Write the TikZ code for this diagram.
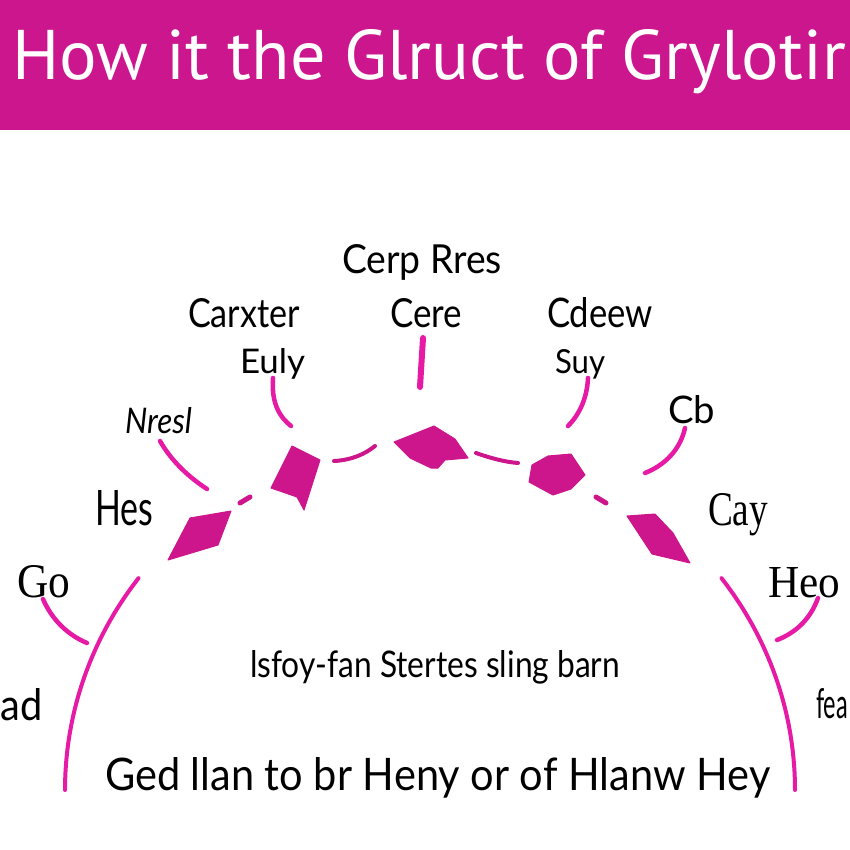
\documentclass[tikz,border=0pt]{standalone}
\usepackage{fontspec}
\setmainfont{Lato}
\newfontfamily\titlefont{PT Sans}
\newfontfamily\serifB{Liberation Serif}
\usepackage{graphicx}
\definecolor{hdr}{RGB}{204,22,142}
\definecolor{arcc}{RGB}{230,26,164}
\definecolor{blob}{RGB}{205,22,140}
\newcommand{\fitbox}[3]{\resizebox{#1pt}{#2pt}{#3}}
\begin{document}
\begin{tikzpicture}[x=1pt,y=-1pt,
  lbl/.style={anchor=base west, inner sep=0pt, outer sep=0pt, text=black},
  callout/.style={draw=arcc, line width=4.5pt, line cap=round},
  archline/.style={draw=arcc, line width=4pt, line cap=round},
  petal/.style={fill=blob, draw=blob, line width=1pt, line join=round},
  dashseg/.style={draw=blob, line width=4pt, line cap=round}]
\useasboundingbox (0,0) rectangle (850,850);
\fill[white] (0,0) rectangle (850,850);
\begin{scope}
\clip (0,0) rectangle (850,850);
% header band
\fill[hdr] (0,0) rectangle (850,130);
\node[lbl, text=white] (title) at (12,80) {\fitbox{834}{50}{\titlefont How it the Glruct of Grylotir}};
% labels
\node[lbl] (cerp) at (342,273) {\fitbox{160}{29}{Cerp Rres}};
\node[lbl] (carxter) at (188,327) {\fitbox{112}{29}{Carxter}};
\node[lbl] (cere) at (390,327) {\fitbox{72}{29}{Cere}};
\node[lbl] (cdeew) at (547,327) {\fitbox{106}{30}{Cdeew}};
\node[lbl] (euly) at (240,373) {\fitbox{65}{25}{Euly}};
\node[lbl] (suy) at (555,373) {\fitbox{50}{24}{Suy}};
\node[lbl] (nresl) at (125,433) {\fitbox{67}{26}{\itshape Nresl}};
\node[lbl] (cb) at (668,423) {\fitbox{47}{28}{Cb}};
\node[lbl] (hes) at (95,525) {\fitbox{58}{35}{Hes}};
\node[lbl] (cay) at (708,525) {\fitbox{60}{32}{\serifB Cay}};
\node[lbl] (go) at (17,597) {\fitbox{53}{32}{\serifB Go}};
\node[lbl] (heo) at (768,597) {\fitbox{72}{30}{\serifB Heo}};
\node[lbl] (ad) at (1,720) {\fitbox{42}{32}{ad}};
\node[lbl] (fea) at (816,718) {\fitbox{32}{30}{fea}};
\node[lbl] (mid) at (250,677) {\fitbox{370}{27}{lsfoy-fan Stertes sling barn}};
\node[lbl] (bot) at (105,790) {\fitbox{665}{33}{Ged llan to br Heny or of Hlanw Hey}};
% big arch
\draw[archline] plot[domain=143:180,samples=50] ({430+365*cos(\x)},{790-352*sin(\x)});
\draw[archline] plot[domain=0:37,samples=50] ({430+365*cos(\x)},{790-352*sin(\x)});
% petals
\filldraw[petal] (168,560) -- (190,518) -- (231,511) -- (218,545) -- cycle;
\filldraw[petal] (292,446) -- (320,460) -- (304,510) -- (297,497) -- (271,488) -- cycle;
\filldraw[petal] (394,442) -- (434,426) -- (455,439) -- (468,458) -- (445,460) -- (438,468) -- (431,468) -- (410,458) -- cycle;
\filldraw[petal] (529,482) -- (532,465) -- (548,456) -- (571,454) -- (585,475) -- (571,489) -- (553,495) -- cycle;
\filldraw[petal] (627,516) -- (655,514) -- (673,533) -- (690,563) -- (652,554) -- cycle;
% dashes and dots
\draw[dashseg] (334,461) .. controls (352,460) and (365,454) .. (375,446);
\draw[dashseg] (476,453) .. controls (490,458) and (505,462) .. (518,463);
\draw[dashseg, line width=5pt] (240,503) -- (250,497);
\draw[dashseg, line width=5pt] (596,497) -- (606,503);
% callouts
\coordinate (e1) at (273,378); \coordinate (e2) at (291,426);
\draw[callout] (e1) .. controls (271,405) and (281,418) .. (e2);
\coordinate (c1) at (423,338); \coordinate (c2) at (420,387);
\draw[callout, line width=6pt] (c1) -- (c2);
\coordinate (s1) at (588,378); \coordinate (s2) at (568,426);
\draw[callout] (s1) .. controls (587,400) and (578,416) .. (s2);
\coordinate (n1) at (160,441); \coordinate (n2) at (207,489);
\draw[callout] (n1) .. controls (172,462) and (190,478) .. (n2);
\coordinate (b1) at (685,428); \coordinate (b2) at (645,473);
\draw[callout] (b1) .. controls (680,450) and (665,465) .. (b2);
\coordinate (g1) at (43,599); \coordinate (g2) at (87,643);
\draw[callout] (g1) .. controls (52,620) and (68,635) .. (g2);
\coordinate (h1) at (818,598); \coordinate (h2) at (777,640);
\draw[callout] (h1) .. controls (810,620) and (795,633) .. (h2);
\end{scope}
\end{tikzpicture}
\end{document}
